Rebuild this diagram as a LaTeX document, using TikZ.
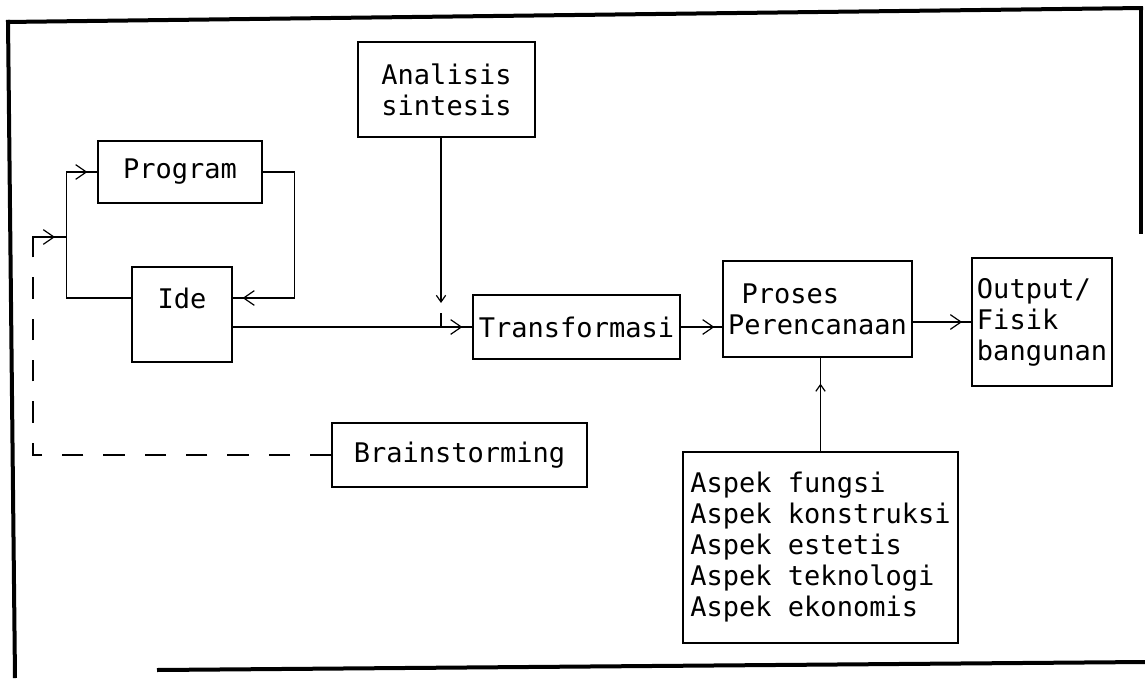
\documentclass[tikz,border=0pt]{standalone}
\usepackage{fontspec}
\setmainfont{DejaVu Sans Mono}
\usetikzlibrary{arrows.meta,decorations.markings}
\begin{document}
\begin{tikzpicture}[x=0.75pt,y=-0.75pt,
  tfont/.style={font=\fontsize{20.25}{23.25}\selectfont},
  txt/.style={tfont, inner sep=0pt},
  box/.style={draw, line width=0.9pt, inner sep=0pt, tfont},
  frame/.style={line width=3pt},
  conn/.style={line width=0.9pt},
  dashline/.style={conn, dash pattern=on 16pt off 15pt},
  tya/.style={conn, postaction={decorate}, decoration={markings,
      mark=at position -#1 with {\arrow{Straight Barb[length=8pt,width=11pt]}}}},
  tyb/.style={conn, postaction={decorate}, decoration={markings,
      mark=at position -#1 with {\arrow{Straight Barb[length=5pt,width=7pt]}}}}
]
\useasboundingbox (0,0) rectangle (1145,678);

% outer frame
\draw[frame] (6,22) -- (1143,8);
\draw[frame] (8,20) -- (15,678);
\draw[frame] (1141,7) -- (1141,234);
\draw[frame] (157,670) -- (1145,662);

% boxes
\node[box, minimum width=132.75pt, minimum height=71.25pt, align=center] (ana) at (446.5,89.5) {Analisis\\sintesis};
\node[box, minimum width=123pt, minimum height=46.5pt] (prog) at (180,172) {Program};
\node[box, minimum width=75pt, minimum height=71.25pt] (ide) at (182,314.5) {};
\node[txt] (idet) at (182,298) {Ide};
\node[box, minimum width=155.25pt, minimum height=48pt] (trans) at (576.5,327) {Transformasi};
\node[box, minimum width=141.75pt, minimum height=72pt, align=left] (proses) at (817.5,309) {\hspace{0.5em}Proses\\Perencanaan};
\node[box, minimum width=105pt, minimum height=96pt, align=left] (out) at (1042,322) {Output/\\Fisik\\bangunan};
\node[box, minimum width=191.25pt, minimum height=48pt] (brain) at (459.5,455) {Brainstorming};
\node[box, minimum width=206.25pt, minimum height=143.25pt, align=left] (aspek) at (820.5,547.5) {Aspek fungsi\\Aspek konstruksi\\Aspek estetis\\Aspek teknologi\\Aspek ekonomis};

% helper coordinates
\coordinate (j1) at (67,237);
\coordinate (d1) at (33,253);
\coordinate (a1) at (441,137);
\coordinate (a2) at (441,303);
\coordinate (a3) at (441,313);
\coordinate (a4) at (441,327);

% Program -> Ide
\draw[tya=7.5pt] (prog.east) -- ++(32,0) |- (ide.east |- idet);
% Ide -> Program
\draw[tya=7.5pt] (ide.west |- idet) -- ++(-65,0) |- (prog.west);
% Brainstorming feedback
\draw[dashline] (brain.west) -| (d1);
\draw[tya=9pt] (d1) |- (j1);
% Ide -> Transformasi
\draw[tya=7.5pt] (ide.east |- trans.west) -- (trans.west);
% Analisis -> Transformasi
\draw[conn, -{Straight Barb[length=5pt,width=7pt]}] (a1) -- (a2);
\draw[conn] (a3) -- (a4);
% Transformasi -> Proses
\draw[tya=6pt] (trans.east) -- (trans.east -| proses.west);
% Proses -> Output
\draw[tya=7pt] (proses.east |- out.west) -- (out.west);
% Aspek -> Proses
\draw[tyb=19.5pt] (aspek.north) -- (aspek.north |- proses.south);
\end{tikzpicture}
\end{document}
